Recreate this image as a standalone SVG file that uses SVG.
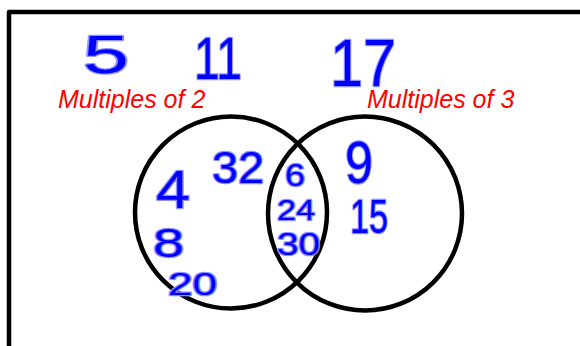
<svg xmlns="http://www.w3.org/2000/svg" width="580" height="346" viewBox="0 0 580 346">
  <style>
    .frame { fill: none; stroke: #000; stroke-width: 4.5; stroke-linejoin: round; }
    .set { fill: none; stroke: #000; stroke-width: 4.5; }
    .label { font-family: "Liberation Sans", Arial, sans-serif; font-style: italic; font-size: 25px; fill: #ff0000; }
    .num { font-family: "Liberation Sans", Arial, sans-serif; fill: #0000ff; stroke: #9090ff; stroke-width: 2.5; stroke-linejoin: round; paint-order: stroke; }
  </style>
  <rect width="580" height="346" fill="#ffffff"/>
  <path class="frame" d="M9,350 V12 H590"/>

  <g id="set-multiples-of-2">
    <circle class="set" cx="231" cy="212.5" r="96"/>
    <text class="label" x="58" y="108">Multiples of 2</text>
  </g>
  <g id="set-multiples-of-3">
    <circle class="set" cx="365" cy="213.5" r="97"/>
    <text class="label" x="367" y="108">Multiples of 3</text>
  </g>

  <g id="outside">
    <text class="num" x="83" y="73" font-size="54" textLength="46" lengthAdjust="spacingAndGlyphs">5</text>
    <text class="num" x="194" y="79" font-size="60" textLength="48" lengthAdjust="spacingAndGlyphs">11</text>
    <text class="num" x="330" y="86" font-size="66" textLength="66" lengthAdjust="spacingAndGlyphs">17</text>
  </g>
  <g id="only-2">
    <text class="num" x="156" y="208" font-size="54" textLength="34" lengthAdjust="spacingAndGlyphs">4</text>
    <text class="num" x="212" y="183" font-size="44" textLength="52" lengthAdjust="spacingAndGlyphs">32</text>
    <text class="num" x="153" y="257" font-size="41" textLength="31" lengthAdjust="spacingAndGlyphs">8</text>
    <text class="num" x="168" y="295" font-size="32" textLength="49" lengthAdjust="spacingAndGlyphs">20</text>
  </g>
  <g id="both">
    <text class="num" x="285" y="186" font-size="32" textLength="20" lengthAdjust="spacingAndGlyphs">6</text>
    <text class="num" x="277" y="220" font-size="30" textLength="38" lengthAdjust="spacingAndGlyphs">24</text>
    <text class="num" x="277" y="255" font-size="31" textLength="43" lengthAdjust="spacingAndGlyphs">30</text>
  </g>
  <g id="only-3">
    <text class="num" x="345" y="183" font-size="60" textLength="28" lengthAdjust="spacingAndGlyphs">9</text>
    <text class="num" x="350" y="233" font-size="48" textLength="38" lengthAdjust="spacingAndGlyphs">15</text>
  </g>
</svg>
